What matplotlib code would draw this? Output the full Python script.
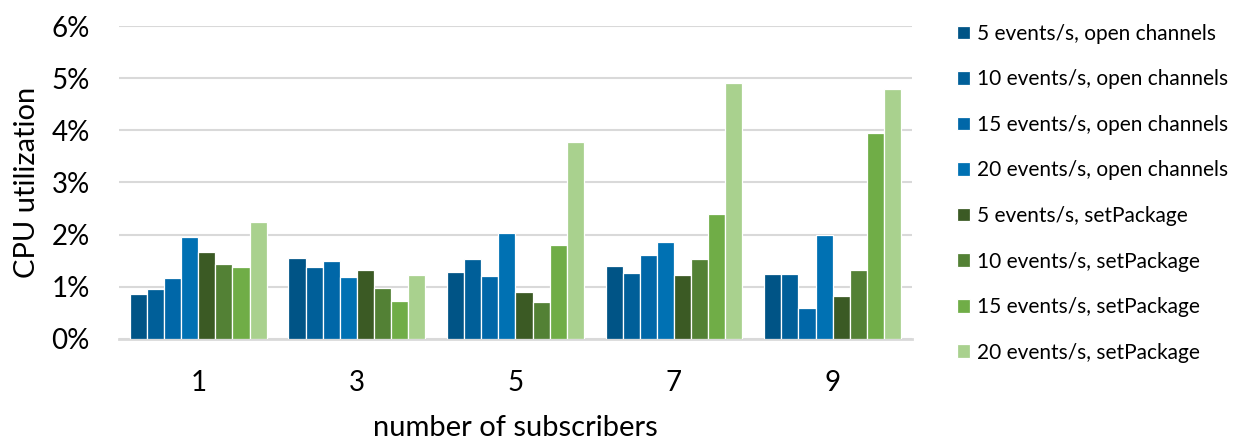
import numpy as np
import matplotlib.pyplot as plt
from matplotlib.ticker import PercentFormatter

plt.rcParams['font.family'] = ['Lato', 'DejaVu Sans']

subscribers = ['1', '3', '5', '7', '9']
series_labels = [
    '5 events/s, open channels',
    '10 events/s, open channels',
    '15 events/s, open channels',
    '20 events/s, open channels',
    '5 events/s, setPackage',
    '10 events/s, setPackage',
    '15 events/s, setPackage',
    '20 events/s, setPackage',
]

# CPU utilization in percent, one list per series (values for 1, 3, 5, 7, 9 subscribers)
open_5 = [0.87, 1.56, 1.28, 1.39, 1.24]
open_10 = [0.96, 1.38, 1.53, 1.26, 1.24]
open_15 = [1.17, 1.49, 1.21, 1.61, 0.60]
open_20 = [1.96, 1.19, 2.04, 1.85, 1.99]
setpkg_5 = [1.66, 1.33, 0.90, 1.23, 0.83]
setpkg_10 = [1.43, 0.98, 0.70, 1.54, 1.33]
setpkg_15 = [1.38, 0.73, 1.81, 2.39, 3.95]
setpkg_20 = [2.24, 1.22, 3.78, 4.91, 4.80]

series = [open_5, open_10, open_15, open_20, setpkg_5, setpkg_10, setpkg_15, setpkg_20]
colors = ['#005486', '#005F99', '#0067A8', '#0071B3',
          '#3B5A24', '#538135', '#70AD47', '#A9D18E']

fig = plt.figure(figsize=(12.37, 4.43), dpi=100)
ax = fig.add_axes([0.0962, 0.2348, 0.641, 0.7065])

x = np.arange(len(subscribers))
step = 0.1078
for i, (vals, lab, col) in enumerate(zip(series, series_labels, colors)):
    offset = (i - 3.5) * step
    ax.bar(x + offset, vals, width=step, color=col, label=lab,
           edgecolor='white', linewidth=0.9, zorder=3)

ax.set_xlim(-0.5, len(subscribers) - 0.5)
ax.set_ylim(0, 6)
ax.set_yticks(range(0, 7))
ax.yaxis.set_major_formatter(PercentFormatter(decimals=0))
ax.set_xticks(x)
ax.set_xticklabels(subscribers)
ax.grid(axis='y', color='#D9D9D9', linewidth=1.5, zorder=0)
ax.tick_params(length=0, labelsize=20, colors='#000000')
ax.tick_params(axis='y', pad=21)
ax.tick_params(axis='x', pad=22)
for side in ['top', 'right', 'left']:
    ax.spines[side].set_visible(False)
ax.spines['bottom'].set_color('#D9D9D9')
ax.spines['bottom'].set_linewidth(2)

ax.set_xlabel('number of subscribers', fontsize=21, labelpad=14)
ax.set_ylabel('CPU utilization', fontsize=21, labelpad=8)

fig.legend(*ax.get_legend_handles_labels(), loc='upper left',
           bbox_to_anchor=(0.7737, 0.946), frameon=False,
           fontsize=15, handlelength=0.63, handleheight=0.63, handletextpad=0.33,
           labelspacing=1.225, borderpad=0, borderaxespad=0)

fig.savefig('out.png', dpi=100)
